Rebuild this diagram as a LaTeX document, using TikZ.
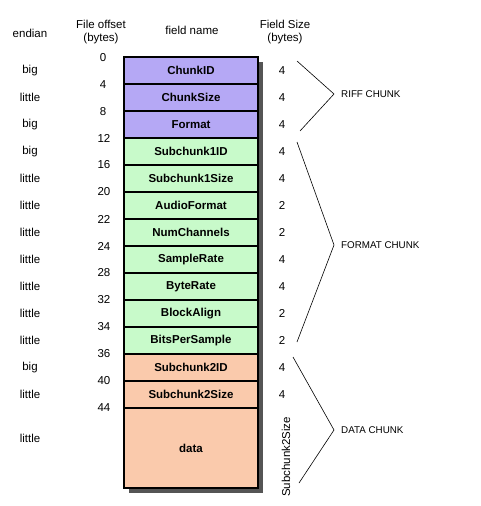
\documentclass[tikz,border=0pt]{standalone}
\usepackage{fontspec}
\setmainfont{Liberation Sans}
\usetikzlibrary{positioning}

\definecolor{riffcol}{RGB}{181,168,245}
\definecolor{fmtcol}{RGB}{200,250,202}
\definecolor{datacol}{RGB}{250,202,172}
\definecolor{shadowcol}{RGB}{85,85,85}

\begin{document}
\begin{tikzpicture}[x=1pt,y=-1pt,
  field/.style={draw,line width=1.5pt,minimum width=134pt,minimum height=27pt,
    inner sep=0pt,outer sep=0pt,font=\fontsize{11.5}{13.5}\selectfont\bfseries},
  lbl/.style={draw=none,inner sep=0pt,align=center,font=\fontsize{11.5}{13.5}\selectfont},
  chunk/.style={draw=none,inner sep=0pt,anchor=west,font=\fontsize{9.8}{12}\selectfont},
  brace/.style={line width=0.6pt}]
  \useasboundingbox (0,0) rectangle (481,506);

  % headers
  \node[lbl] (hEndian) at (30,33) {endian};
  \node[lbl] (hOffset) at (101,32) {File offset\\(bytes)};
  \node[lbl] (hName) at (192,30) {field name};
  \node[lbl] (hSize) at (285,32) {Field Size\\(bytes)};

  % shadow
  \fill[shadowcol] (128.5,61.5) rectangle (262.5,492.5);

  % fields
  \node[field,fill=riffcol] (chunkID) at (191,70.5) {ChunkID};
  \node[field,fill=riffcol,below=0pt of chunkID] (chunkSize) {ChunkSize};
  \node[field,fill=riffcol,below=0pt of chunkSize] (format) {Format};
  \node[field,fill=fmtcol,below=0pt of format] (sub1ID) {Subchunk1ID};
  \node[field,fill=fmtcol,below=0pt of sub1ID] (sub1Size) {Subchunk1Size};
  \node[field,fill=fmtcol,below=0pt of sub1Size] (audioFormat) {AudioFormat};
  \node[field,fill=fmtcol,below=0pt of audioFormat] (numChannels) {NumChannels};
  \node[field,fill=fmtcol,below=0pt of numChannels] (sampleRate) {SampleRate};
  \node[field,fill=fmtcol,below=0pt of sampleRate] (byteRate) {ByteRate};
  \node[field,fill=fmtcol,below=0pt of byteRate] (blockAlign) {BlockAlign};
  \node[field,fill=fmtcol,below=0pt of blockAlign] (bitsPerSample) {BitsPerSample};
  \node[field,fill=datacol,below=0pt of bitsPerSample] (sub2ID) {Subchunk2ID};
  \node[field,fill=datacol,below=0pt of sub2ID] (sub2Size) {Subchunk2Size};
  \node[field,fill=datacol,below=0pt of sub2Size,minimum height=80pt] (data) {data};

  % endian
  \node[lbl] (e1) at (30,70.5) {big};
  \node[lbl] (e2) at (30,97.5) {little};
  \node[lbl] (e3) at (30,124.5) {big};
  \node[lbl] (e4) at (30,151.5) {big};
  \node[lbl] (e5) at (30,178.5) {little};
  \node[lbl] (e6) at (30,205.5) {little};
  \node[lbl] (e7) at (30,232.5) {little};
  \node[lbl] (e8) at (30,259.5) {little};
  \node[lbl] (e9) at (30,286.5) {little};
  \node[lbl] (e10) at (30,313.5) {little};
  \node[lbl] (e11) at (30,340.5) {little};
  \node[lbl] (e12) at (30,367.5) {big};
  \node[lbl] (e13) at (30,394.5) {little};
  \node[lbl] (e14) at (30,438) {little};

  % offsets
  \node[lbl] (o1) at (103,58) {0};
  \node[lbl] (o2) at (103,85) {4};
  \node[lbl] (o3) at (103,112) {8};
  \node[lbl] (o4) at (104,138) {12};
  \node[lbl] (o5) at (104,165) {16};
  \node[lbl] (o6) at (104,192) {20};
  \node[lbl] (o7) at (104,219) {22};
  \node[lbl] (o8) at (104,246) {24};
  \node[lbl] (o9) at (104,273) {28};
  \node[lbl] (o10) at (104,300) {32};
  \node[lbl] (o11) at (104,327) {34};
  \node[lbl] (o12) at (104,354) {36};
  \node[lbl] (o13) at (104,381) {40};
  \node[lbl] (o14) at (104,408) {44};

  % sizes
  \node[lbl] (s1) at (282,70.5) {4};
  \node[lbl] (s2) at (282,97.5) {4};
  \node[lbl] (s3) at (282,124.5) {4};
  \node[lbl] (s4) at (282,151.5) {4};
  \node[lbl] (s5) at (282,178.5) {4};
  \node[lbl] (s6) at (282,205.5) {2};
  \node[lbl] (s7) at (282,232.5) {2};
  \node[lbl] (s8) at (282,259.5) {4};
  \node[lbl] (s9) at (282,286.5) {4};
  \node[lbl] (s10) at (282,313.5) {2};
  \node[lbl] (s11) at (282,340.5) {2};
  \node[lbl] (s12) at (282,367.5) {4};
  \node[lbl] (s13) at (282,394.5) {4};
  \node[lbl,rotate=90] (s14) at (286,457) {Subchunk2Size};

  % chunk braces
  \coordinate (riffTop) at (297,61);
  \coordinate (riffTip) at (334,94);
  \coordinate (riffBot) at (300,131);
  \draw[brace] (riffTop) -- (riffTip) -- (riffBot);
  \node[chunk,right=7pt of riffTip] (riffLbl) {RIFF CHUNK};

  \coordinate (fmtTop) at (297,142);
  \coordinate (fmtTip) at (334,245);
  \coordinate (fmtBot) at (297,342);
  \draw[brace] (fmtTop) -- (fmtTip) -- (fmtBot);
  \node[chunk,right=7pt of fmtTip] (fmtLbl) {FORMAT CHUNK};

  \coordinate (dataTop) at (293,357);
  \coordinate (dataTip) at (334,430);
  \coordinate (dataBot) at (299,483);
  \draw[brace] (dataTop) -- (dataTip) -- (dataBot);
  \node[chunk,right=7pt of dataTip] (dataLbl) {DATA CHUNK};

\end{tikzpicture}
\end{document}
